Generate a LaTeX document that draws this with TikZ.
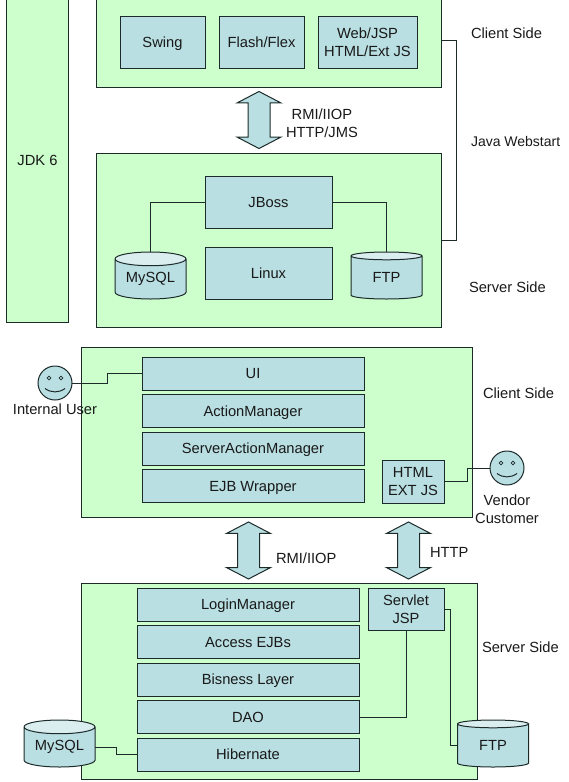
\documentclass[tikz,border=0pt]{standalone}
\usepackage{fontspec}
\setmainfont{Liberation Sans}
\usetikzlibrary{shapes.geometric, shapes.arrows, positioning}

\definecolor{panelgreen}{HTML}{CCFFCC}
\definecolor{boxblue}{HTML}{B9DFE2}
\definecolor{capblue}{HTML}{DAEEF0}
\definecolor{edgegray}{HTML}{1C2A2A}

\begin{document}
\begin{tikzpicture}[
    x=1pt, y=-1pt,
    node distance=4.5pt,
    every node/.style={font=\fontsize{14.7}{18}\selectfont, text=black!90, inner sep=0pt, outer sep=0pt},
    oneline/.style={text height=10.5pt, text depth=0pt},
    panel/.style={rectangle, draw=edgegray, line width=1pt, fill=panelgreen, anchor=north west},
    tierbox/.style={rectangle, draw=edgegray, line width=1pt, fill=boxblue, anchor=north west, align=center},
    layer/.style={tierbox, oneline, minimum width=222pt, minimum height=33pt},
    dbase/.style={cylinder, shape border rotate=90, aspect=0.28, draw=edgegray, line width=1pt,
                  cylinder uses custom fill, cylinder body fill=boxblue, cylinder end fill=capblue,
                  minimum width=71pt, minimum height=47pt, anchor=north},
    link/.style={draw=edgegray, line width=1pt},
    proto/.style={double arrow, shape border rotate=90, draw=edgegray, line width=1pt, fill=boxblue,
                  inner sep=10.5pt, minimum width=43pt, minimum height=57pt, double arrow head extend=11pt,
                  double arrow tip angle=125},
    smiley/.style={circle, draw=edgegray, line width=1pt, fill=boxblue, minimum size=34pt,
                   path picture={
                     \draw[edgegray, line width=0.7pt] (path picture bounding box.center) ++(-6,-5) circle (1.8pt)
                        ++(12,0) circle (1.8pt);
                     \draw[edgegray, line width=1pt] (path picture bounding box.center) ++(-10,5.5)
                        .. controls (-4,10) and (4,10) .. (10,5.5);
                   }},
    label/.style={align=center},
]
    \useasboundingbox (0,0) rectangle (569,782);

    % upper diagram
    \node[panel, oneline, minimum width=62pt, minimum height=325.5pt] (jdk) at (6.5,-3) {JDK 6};
    \node[panel, minimum width=345pt, minimum height=94.5pt] (clienttop) at (96.5,-7) {};
    \node[panel, minimum width=345pt, minimum height=174pt] (servertop) at (96.5,153) {};

    \node[tierbox, oneline, minimum width=85pt, minimum height=52pt] (swing) at (120,16.5) {Swing};
    \node[tierbox, oneline, minimum width=85pt, minimum height=52pt] (flash) at (219,16.5) {Flash/Flex};
    \node[tierbox, minimum width=99pt, minimum height=52pt] (web)   at (318,16.5) {Web/JSP\\HTML/Ext JS};

    \node[tierbox, oneline, minimum width=127pt, minimum height=52pt] (jboss) at (205,176.5) {JBoss};
    \node[tierbox, oneline, minimum width=127pt, minimum height=52pt] (linux) at (205,247.5) {Linux};
    \node[dbase] (mysqltop) at (150.5,252) {MySQL};
    \node[dbase] (ftptop)   at (386.5,252) {FTP};

    \node[proto] (rmitop) at (259,120) {};

    \draw[link] (jboss.west) -| (mysqltop.top);
    \draw[link] (jboss.east) -| (ftptop.top);
    \draw[link] (clienttop.east) -- ++(15,0) |- (servertop.east);

    \node[label, anchor=west] (rmitoplabel) at (286,123) {RMI/IIOP\\HTTP/JMS};
    \node[label, anchor=west] (clienttoplabel) at (471,33) {Client Side};
    \node[label, anchor=west, font=\fontsize{14}{18}\selectfont] (webstart) at (471,141) {Java Webstart};
    \node[label, anchor=west] (servertoplabel) at (469,287) {Server Side};

    % lower diagram
    \node[panel, minimum width=391pt, minimum height=169.5pt] (clientlow) at (81,347.5) {};
    \node[panel, minimum width=396pt, minimum height=196pt] (serverlow) at (81,583) {};

    \node[layer] (ui) at (142,357) {UI};
    \node[layer, below=of ui] (action) {ActionManager};
    \node[layer, below=of action] (serveraction) {ServerActionManager};
    \node[layer, below=of serveraction] (ejbwrap) {EJB Wrapper};
    \node[tierbox, minimum width=62pt, minimum height=42.5pt] (html) at (382,460.5) {HTML\\EXT JS};

    \node[layer] (login) at (137,588) {LoginManager};
    \node[layer, below=of login] (ejbs) {Access EJBs};
    \node[layer, below=of ejbs] (bisness) {Bisness Layer};
    \node[layer, below=of bisness] (dao) {DAO};
    \node[layer, below=of dao] (hibernate) {Hibernate};
    \node[tierbox, minimum width=76pt, minimum height=42.5pt] (servlet) at (368,588) {Servlet\\JSP};

    \node[dbase] (mysqllow) at (59.5,720) {MySQL};
    \node[dbase] (ftplow)   at (493,720) {FTP};

    \node[smiley] (internal) at (55,383) {};
    \node[smiley] (vendor) at (507,468) {};
    \node[label, below=4pt of internal] (internallabel) {Internal User};
    \node[label, below=10pt of vendor] (vendorlabel) {Vendor\\Customer};

    \node[proto] (rmilow)  at (248.5,550.5) {};
    \node[proto] (httplow) at (408.5,550.5) {};

    \draw[link] (internal.east) -- ++(35,0) |- (ui.west);
    \draw[link] (html.east) -- ++(23,0) |- (vendor.west);
    \draw[link] (servlet.east) -- ++(6.5,0) |- (ftplow.west);
    \draw[link] (servlet.south) |- (dao.east);
    \draw[link] (mysqllow.east) -- ++(21,0) |- (hibernate.west);

    \node[label, anchor=west] (rmilowlabel) at (276,558) {RMI/IIOP};
    \node[label, anchor=west] (httplabel) at (430,552) {HTTP};
    \node[label, anchor=west] (clientlowlabel) at (483,393) {Client Side};
    \node[label, anchor=west] (serverlowlabel) at (482,647) {Server Side};
\end{tikzpicture}
\end{document}
